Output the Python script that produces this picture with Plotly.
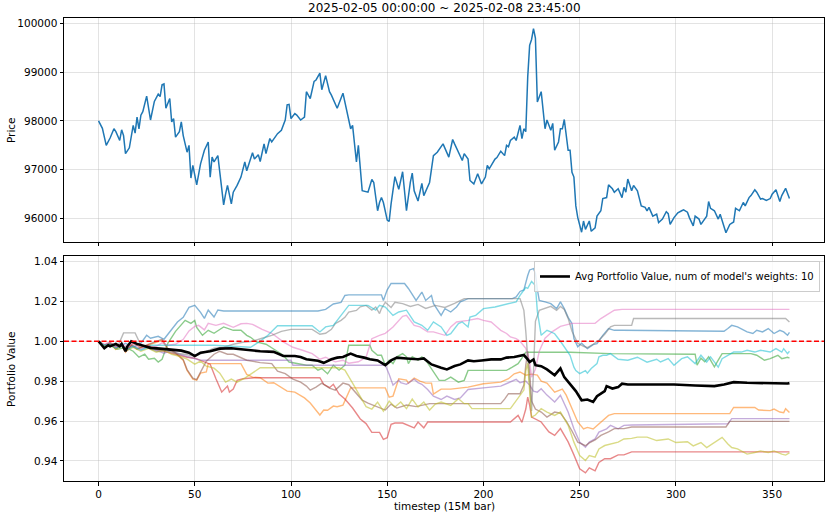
import plotly.graph_objects as go

TITLE = "2025-02-05 00:00:00 ~ 2025-02-08 23:45:00"
X_LABEL = "timestep (15M bar)"
PRICE_LABEL = "Price"
PV_LABEL = "Portfolio Value"
LEGEND_LABEL = "Avg Portfolio Value, num of model's weights: 10"
BASELINE = 1.0
X_TICKS = [0, 50, 100, 150, 200, 250, 300, 350]
PRICE_TICKS = [96000, 97000, 98000, 99000, 100000]
PV_TICKS = [0.94, 0.96, 0.98, 1.00, 1.02, 1.04]

# (timestep, price)
price = [(0,98000),(2,97850),(4,97500),(6,97650),(8,97840),(9,97780),(11,97600),(12,97820),(13,97700),(14,97330),
 (16,97450),(18,97910),(19,97750),(20,98080),(21,97840),(22,98120),(23,98190),(25,98510),(27,98020),(29,98400),
 (31,98550),(32,98500),(33,98740),(34,98760),(35,98260),(37,98460),(38,97980),(39,98050),(40,97670),(42,97780),
 (43,97980),(44,97700),(46,97360),(47,97500),(48,96830),(49,97090),(51,96690),(53,97120),(55,97400),(57,97570),
 (58,96850),(59,97260),(60,97160),(62,97290),(63,96950),(65,96280),(66,96500),(67,96680),(69,96300),(70,96540),
 (72,96680),(74,96850),(76,97160),(77,96980),(80,97350),(81,97220),(83,97310),(84,97170),(86,97530),(87,97330),
 (89,97640),(90,97570),(93,97740),(95,97810),(97,98020),(98,98330),(99,98340),(100,98050),(102,98150),(103,98120),
 (105,98020),(107,98080),(108,98600),(110,98460),(112,98810),(113,98840),(115,98980),(116,98640),(118,98930),(120,98600),
 (121,98530),(124,98260),(127,98570),(129,98220),(131,97840),(132,97910),(134,97160),(135,97500),(137,96570),(140,96540),
 (142,96800),(143,96740),(145,96160),(146,96330),(147,96430),(148,96330),(150,95970),(151,95940),(152,96300),(154,96860),
 (156,96600),(158,96960),(160,96160),(162,96740),(163,96930),(164,96570),(166,96360),(168,96720),(169,96470),(172,96740),
 (174,97290),(176,97360),(179,97530),(182,97260),(184,97620),(185,97530),(189,97190),(190,97330),(192,97220),(193,96780),
 (195,96710),(197,96920),(199,96710),(201,96850),(202,97090),(203,97020),(206,97220),(207,97250),(209,97380),(211,97290),
 (212,97500),(213,97470),(214,97600),(216,97670),(217,97600),(219,97910),(220,97640),(221,97840),(222,97780),(223,98900),
 (224,99550),(225,99670),(226,99890),(227,99700),(228,98390),(230,98600),(232,97840),(233,98020),(235,97810),(236,97950),
 (237,97400),(239,97570),(240,97840),(241,97840),(242,98030),(244,97400),(245,97400),(246,96950),(247,96850),(248,96260),
 (249,96020),(251,95720),(252,95950),(253,95780),(255,95950),(256,95740),(258,95810),(259,96050),(261,96160),(262,96410),
 (264,96430),(265,96690),(267,96610),(268,96540),(270,96610),(272,96430),(273,96640),(274,96540),(275,96810),(277,96570),
 (278,96680),(280,96570),(282,96260),(284,96230),(285,96160),(286,96230),(288,96050),(290,96090),(291,95920),(293,95990),
 (295,96140),(296,96100),(297,95880),(299,96020),(301,96120),(303,96160),(304,96180),(306,96130),(307,96020),(309,95850),
 (310,96050),(312,95990),(313,95880),(316,96050),(317,96350),(318,96210),(320,96160),(322,95990),(323,96090),(326,95710),
 (328,95880),(330,95930),(331,96210),(333,96160),(335,96330),(336,96260),(338,96430),(339,96470),(341,96590),(342,96540),
 (344,96400),(345,96410),(347,96370),(349,96410),(350,96500),(352,96590),(354,96350),(355,96470),(357,96620),(359,96410)]

# (timestep, portfolio value) for each model's weights
model_0 = [(0,1.0),(3,0.998),(6,0.999),(10,0.997),(14,0.999),(18,0.997),(22,0.999),(25,1.003),(27,1.0015),(31,1.0025),
 (34,1.001),(37,1.005),(41,1.0097),(44,1.012),(47,1.017),(50,1.018),(53,1.0145),(55,1.0115),(57,1.0157),(60,1.0122),
 (62,1.0157),(65,1.0152),(114,1.0152),(118,1.016),(122,1.0187),(126,1.0195),(128,1.023),(130,1.0233),(147,1.0233),(148,1.0205),
 (150,1.0258),(152,1.029),(159,1.029),(161,1.0265),(163,1.0238),(165,1.0205),(168,1.0247),(170,1.0205),(173,1.023),(174,1.019),
 (178,1.013),(180,1.0164),(183,1.0147),(186,1.0172),(188,1.0198),(192,1.0214),(215,1.0214),(217,1.0223),(219,1.025),(221,1.0258),
 (223,1.033),(224,1.0358),(226,1.0365),(227,1.034),(228,1.026),(229,1.0205),(232,1.0198),(235,1.0189),(238,1.0164),(240,1.0198),
 (242,1.0164),(244,1.012),(246,1.0089),(247,1.0014),(249,0.9972),(251,0.999),(254,0.9963),(257,0.9983),(259,0.9988),(262,1.003),
 (265,1.0064),(268,1.0055),(272,1.0055),(325,1.005),(327,1.0064),(329,1.008),(332,1.0072),(335,1.0055),(337,1.0047),(340,1.0039),
 (342,1.0055),(345,1.0047),(348,1.0064),(351,1.0039),(354,1.0055),(356,1.0047),(358,1.003),(359,1.0045)]
model_1 = [(0,1.0),(3,0.997),(6,0.999),(9,0.996),(12,0.998),(14,0.9945),(17,0.998),(20,0.996),(24,0.9975),(28,0.999),
 (31,1.0),(33,1.0005),(36,0.996),(40,0.994),(44,0.9905),(46,0.9854),(49,0.981),(51,0.9805),(53,0.984),(56,0.9846),
 (57,0.9888),(74,0.9888),(77,0.9834),(80,0.982),(84,0.9817),(88,0.979),(91,0.9792),(95,0.977),(98,0.975),(102,0.9745),
 (107,0.9716),(110,0.969),(112,0.9666),(115,0.963),(117,0.9655),(119,0.9654),(122,0.9675),(124,0.9672),(127,0.968),(131,0.9766),
 (149,0.9766),(151,0.972),(153,0.9725),(156,0.9812),(160,0.9805),(161,0.979),(164,0.9815),(167,0.98),(170,0.979),(173,0.979),
 (174,0.9735),(178,0.976),(183,0.976),(192,0.977),(200,0.9787),(209,0.9795),(213,0.9812),(216,0.9837),(219,0.9846),(222,0.983),
 (225,0.9835),(228,0.983),(230,0.98),(233,0.979),(237,0.9745),(241,0.976),(243,0.973),(246,0.966),(249,0.9595),(252,0.956),
 (254,0.9568),(257,0.956),(260,0.9585),(262,0.9602),(265,0.9628),(268,0.9637),(328,0.9637),(330,0.9668),(341,0.9668),(343,0.9655),
 (349,0.9652),(351,0.966),(354,0.9645),(356,0.9642),(357,0.9662),(359,0.9643)]
model_2 = [(0,1.0),(3,0.997),(6,0.998),(10,0.996),(14,0.997),(18,0.995),(21,0.992),(24,0.9935),(26,0.991),(29,0.9915),
 (31,0.9896),(33,0.991),(36,0.999),(40,1.005),(45,1.0105),(48,1.009),(50,1.0105),(51,1.007),(54,1.003),(57,1.0055),
 (60,1.004),(65,1.0072),(70,1.0055),(74,1.0055),(77,1.003),(79,1.002),(82,0.9997),(87,0.9985),(92,0.9955),(96,0.993),
 (99,0.9896),(104,0.9888),(108,0.988),(111,0.988),(114,0.9855),(116,0.9863),(119,0.9837),(122,0.988),(125,0.9855),(128,0.988),
 (130,0.998),(141,0.998),(142,0.9955),(145,0.993),(147,0.993),(149,0.988),(151,0.9905),(153,0.9888),(155,0.9922),(158,0.9938),
 (160,0.9922),(161,0.9888),(163,0.9922),(166,0.9905),(168,0.9922),(170,0.9905),(174,0.9846),(177,0.9804),(180,0.9804),(183,0.982),
 (187,0.9795),(190,0.9804),(192,0.9854),(212,0.9854),(215,0.987),(218,0.9888),(220,0.9915),(222,0.9945),(245,0.9945),(266,0.9938),
 (310,0.9935),(311,0.988),(313,0.9915),(315,0.9897),(317,0.9922),(320,0.9872),(322,0.9905),(324,0.9938),(339,0.9938),(342,0.993),
 (346,0.9905),(349,0.9913),(353,0.993),(355,0.9913),(358,0.992),(359,0.9915)]
model_3 = [(0,1.0),(3,0.998),(6,0.9995),(9,0.997),(12,0.998),(15,0.996),(18,0.999),(22,0.997),(26,0.998),(30,0.996),
 (34,0.995),(38,0.994),(42,0.993),(46,0.992),(50,0.9915),(54,0.99),(58,0.9885),(61,0.9812),(64,0.9745),(67,0.9775),
 (68,0.9745),(70,0.976),(72,0.9804),(75,0.9812),(81,0.9817),(115,0.9817),(117,0.9784),(120,0.9767),(122,0.9784),(125,0.9735),
 (128,0.971),(132,0.9665),(134,0.9634),(136,0.961),(139,0.9587),(142,0.9543),(146,0.9543),(148,0.9508),(150,0.9516),(152,0.9583),
 (154,0.959),(158,0.959),(164,0.9566),(166,0.9595),(169,0.9566),(171,0.9595),(214,0.9595),(216,0.961),(218,0.9628),(220,0.9593),
 (222,0.966),(223,0.972),(224,0.968),(225,0.962),(227,0.961),(230,0.9595),(234,0.9545),(237,0.9528),(240,0.9562),(244,0.9495),
 (247,0.943),(250,0.936),(253,0.934),(255,0.9365),(258,0.935),(260,0.9392),(263,0.9411),(266,0.9411),(270,0.943),(273,0.943),
 (277,0.9445),(359,0.9445)]
model_4 = [(0,1.0),(3,0.9975),(6,0.999),(9,0.9965),(12,0.9985),(15,0.9955),(18,0.998),(22,0.996),(26,0.9975),(30,0.9955),
 (34,0.994),(38,0.9955),(42,0.9935),(46,0.9925),(50,0.9915),(53,0.9905),(100,0.9905),(101,0.988),(149,0.988),(151,0.9835),
 (153,0.978),(156,0.9805),(157,0.9792),(160,0.9784),(164,0.981),(166,0.9792),(168,0.9784),(171,0.9758),(174,0.9725),(178,0.9708),
 (181,0.9725),(185,0.9708),(188,0.9716),(192,0.9758),(200,0.9766),(209,0.9775),(213,0.9792),(217,0.9809),(219,0.9792),(222,0.98),
 (224,0.978),(226,0.975),(228,0.9745),(230,0.9762),(233,0.973),(237,0.9695),(240,0.9729),(244,0.9645),(247,0.9561),(250,0.9494),
 (253,0.9469),(255,0.9494),(258,0.951),(260,0.9544),(264,0.9561),(266,0.9578),(270,0.9561),(273,0.9578),(277,0.958),(327,0.9586),
 (329,0.9612),(359,0.9612)]
model_5 = [(0,1.0),(3,0.997),(6,0.999),(9,0.9962),(12,0.9982),(14,0.9948),(17,0.9982),(20,0.9962),(24,0.9978),(28,0.9992),
 (31,1.0005),(33,1.001),(36,0.9965),(40,0.9942),(44,0.9908),(46,0.9858),(49,0.9815),(51,0.9808),(53,0.9845),(56,0.99),
 (60,0.9935),(63,0.995),(67,0.9935),(70,0.9935),(77,0.9905),(84,0.9893),(90,0.9888),(93,0.985),(97,0.9838),(101,0.981),
 (105,0.9795),(108,0.9775),(110,0.9755),(113,0.977),(116,0.979),(120,0.9765),(123,0.9755),(127,0.979),(130,0.9782),(133,0.975),
 (137,0.9705),(140,0.969),(145,0.967),(149,0.9655),(152,0.9685),(155,0.9665),(160,0.968),(165,0.9672),(172,0.9687),(209,0.9687),
 (211,0.971),(213,0.9737),(219,0.9737),(221,0.978),(222,0.988),(223,0.995),(224,0.985),(225,0.97),(227,0.966),(230,0.9645),
 (233,0.962),(237,0.9645),(240,0.964),(243,0.96),(246,0.955),(249,0.9494),(253,0.9476),(255,0.949),(258,0.9505),(261,0.9528),
 (265,0.9545),(268,0.9562),(273,0.9562),(277,0.957),(326,0.957),(328,0.9598),(359,0.9598)]
model_6 = [(0,1.0),(3,0.9985),(6,0.9995),(9,0.997),(12,0.999),(15,0.997),(18,0.9995),(22,0.998),(26,0.9965),(30,0.9975),
 (33,0.9992),(36,0.998),(40,0.9985),(44,1.001),(47,1.0052),(50,1.0075),(52,1.008),(55,1.0057),(57,1.009),(61,1.008),
 (65,1.009),(70,1.007),(74,1.0088),(77,1.009),(80,1.0085),(85,1.006),(90,1.004),(96,0.9997),(101,0.997),(106,0.9955),
 (111,0.9938),(115,0.991),(118,0.992),(123,0.9897),(127,0.9905),(130,0.989),(135,0.9897),(139,0.992),(142,1.0013),(146,1.003),
 (149,1.004),(153,1.0072),(156,1.0105),(158,1.0125),(160,1.013),(164,1.008),(167,1.0072),(171,1.0047),(174,1.0047),(180,1.003),
 (183,1.0072),(186,1.0097),(192,1.0105),(197,1.0114),(200,1.0105),(204,1.0097),(207,1.0072),(209,1.0055),(212,1.0039),(214,1.0022),
 (217,1.0013),(219,1.0),(222,0.9965),(224,0.99),(225,0.982),(227,0.986),(229,0.995),(232,1.0015),(236,1.005),(240,1.0075),
 (246,1.009),(258,1.009),(261,1.0114),(265,1.0139),(268,1.0156),(272,1.016),(359,1.016)]
model_7 = [(0,1.0),(3,0.998),(6,0.999),(10,0.9975),(13,1.0042),(19,1.0042),(22,0.998),(26,0.9965),(30,0.995),(35,0.9955),
 (40,0.994),(45,0.9935),(50,0.9925),(55,0.9945),(60,0.9965),(65,0.997),(70,0.9985),(75,0.9995),(80,1.0),(85,1.0015),
 (90,1.003),(95,1.005),(100,1.006),(111,1.006),(115,1.0035),(118,1.004),(121,1.006),(123,1.0089),(126,1.0105),(128,1.012),
 (130,1.0146),(134,1.0155),(136,1.0173),(139,1.018),(142,1.0156),(144,1.0172),(146,1.0139),(147,1.0164),(149,1.0196),(152,1.017),
 (154,1.0196),(158,1.0189),(162,1.0175),(166,1.0185),(170,1.0165),(175,1.018),(180,1.017),(185,1.019),(190,1.0214),(219,1.0214),
 (221,1.0155),(222,1.005),(224,0.98),(225,0.965),(226,0.985),(227,1.01),(229,1.0155),(232,1.0165),(235,1.0175),(238,1.0155),
 (240,1.0175),(242,1.016),(244,1.0115),(246,1.005),(249,0.999),(252,0.9975),(254,0.9968),(257,0.9985),(260,1.0005),(263,1.0035),
 (266,1.0072),(268,1.008),(277,1.008),(278,1.0114),(357,1.0114),(359,1.0097)]
model_8 = [(0,1.0),(3,0.9975),(6,0.9985),(9,0.996),(12,0.998),(15,0.9955),(18,0.997),(22,0.995),(26,0.9965),(30,0.9945),
 (34,0.9955),(38,0.9935),(42,0.9925),(46,0.991),(50,0.9885),(53,0.99),(56,0.9875),(60,0.9865),(63,0.984),(66,0.9795),
 (69,0.981),(72,0.9795),(76,0.9815),(80,0.984),(84,0.9867),(125,0.9867),(128,0.9855),(132,0.979),(136,0.972),(139,0.9672),
 (142,0.966),(145,0.9695),(148,0.965),(151,0.97),(154,0.967),(157,0.9695),(160,0.9662),(163,0.971),(166,0.967),(169,0.9695),
 (172,0.9655),(175,0.9685),(178,0.9695),(183,0.9678),(187,0.9712),(190,0.9687),(192,0.9687),(194,0.9662),(214,0.9662),(216,0.9687),
 (218,0.9712),(221,0.9755),(222,0.985),(223,0.989),(224,0.975),(225,0.962),(227,0.963),(230,0.9662),(233,0.9645),(237,0.9628),
 (240,0.9645),(244,0.9578),(247,0.9494),(250,0.9427),(253,0.9402),(255,0.9427),(258,0.9419),(260,0.946),(263,0.9477),(266,0.9485),
 (270,0.9494),(273,0.951),(277,0.9513),(280,0.9519),(285,0.9519),(290,0.9502),(296,0.951),(300,0.9492),(306,0.9496),(309,0.9475),
 (313,0.9492),(316,0.9467),(320,0.9492),(324,0.9518),(327,0.9485),(329,0.9467),(332,0.946),(335,0.9442),(337,0.9434),(341,0.9442),
 (344,0.945),(348,0.9442),(351,0.945),(355,0.9434),(357,0.9429),(359,0.944)]
model_9 = [(0,1.0),(3,0.998),(6,0.9985),(9,0.9965),(12,0.998),(15,0.996),(18,0.9975),(22,0.9955),(26,0.997),(27,0.998),
 (60,0.998),(79,0.997),(84,1.0),(88,1.003),(93,1.0078),(111,1.0078),(115,1.0047),(118,1.0072),(122,1.008),(127,1.0139),
 (130,1.018),(140,1.018),(144,1.0156),(146,1.018),(149,1.0172),(153,1.013),(156,1.0147),(160,1.0156),(161,1.014),(164,1.0097),
 (168,1.008),(171,1.0055),(174,1.0097),(178,1.0072),(181,1.003),(183,1.0038),(187,1.0089),(189,1.0097),(192,1.0072),(193,1.0122),
 (196,1.013),(198,1.0147),(200,1.0164),(206,1.0172),(209,1.018),(213,1.0189),(217,1.0198),(219,1.023),(222,1.027),(223,1.0266),
 (225,1.03),(227,1.028),(228,1.015),(230,1.003),(233,1.0055),(235,1.0047),(237,1.0038),(240,1.0),(242,0.9972),(245,0.993),
 (247,0.987),(248,0.9853),(250,0.9838),(253,0.9853),(254,0.984),(256,0.9863),(259,0.9888),(260,0.9922),(262,0.993),(264,0.993),
 (266,0.9938),(270,0.991),(275,0.9905),(280,0.992),(285,0.9895),(290,0.991),(292,0.9896),(296,0.9913),(299,0.988),(303,0.9913),
 (306,0.9922),(310,0.9888),(313,0.993),(316,0.9896),(318,0.9922),(322,0.987),(324,0.9913),(327,0.993),(330,0.9946),(334,0.9946),
 (337,0.9955),(341,0.9946),(344,0.9955),(349,0.9946),(352,0.9963),(355,0.9946),(356,0.9963),(358,0.9938),(359,0.995)]
models = [model_0, model_1, model_2, model_3, model_4, model_5, model_6, model_7, model_8, model_9]

avg_value = [(0,1.0),(3,0.9965),(5,0.998),(6,0.9975),(9,0.9987),(11,0.9975),(12,0.9987),(14,0.995),(15,0.9975),(17,1.0),
 (20,0.9987),(24,0.9975),(27,0.9967),(32,0.9963),(37,0.9958),(43,0.9953),(47,0.9943),(50,0.9926),(53,0.9943),(58,0.995),
 (63,0.9963),(69,0.9965),(74,0.996),(79,0.9955),(84,0.995),(91,0.9947),(96,0.9926),(102,0.9926),(105,0.9921),(108,0.991),
 (114,0.9902),(117,0.9892),(121,0.991),(124,0.9918),(127,0.9921),(131,0.9938),(134,0.9926),(138,0.9918),(141,0.991),(145,0.9904),
 (149,0.988),(152,0.9904),(155,0.9918),(160,0.9914),(166,0.991),(169,0.9914),(173,0.9884),(178,0.9867),(181,0.9859),(185,0.9876),
 (188,0.9884),(192,0.9904),(195,0.99),(199,0.9904),(204,0.9909),(209,0.9909),(212,0.9918),(216,0.9921),(219,0.9926),(221,0.9931),
 (223,0.9909),(224,0.9896),(226,0.9909),(227,0.988),(230,0.9875),(233,0.9859),(237,0.983),(239,0.985),(240,0.9864),(242,0.982),
 (245,0.9783),(248,0.975),(251,0.9704),(254,0.9708),(257,0.9696),(259,0.9724),(263,0.975),(264,0.9775),(267,0.9763),(270,0.977),
 (272,0.9787),(275,0.9783),(282,0.9783),(299,0.9783),(310,0.9778),(320,0.9775),(325,0.9783),(330,0.9795),(337,0.9792),(344,0.979),
 (351,0.979),(358,0.9788),(359,0.979)]

COLORS = ["#1f77b4", "#ff7f0e", "#2ca02c", "#d62728", "#9467bd",
          "#8c564b", "#e377c2", "#7f7f7f", "#bcbd22", "#17becf"]


def rgba(hex_color, a):
    h = hex_color.lstrip("#")
    r, g, b = int(h[0:2], 16), int(h[2:4], 16), int(h[4:6], 16)
    return f"rgba({r},{g},{b},{a})"


def unzip(pairs):
    return [p[0] for p in pairs], [p[1] for p in pairs]


fig = go.Figure()

px_, py_ = unzip(price)
fig.add_trace(go.Scatter(x=px_, y=py_, mode="lines", line=dict(color="#1f77b4", width=1.5),
                         xaxis="x", yaxis="y", showlegend=False, hoverinfo="skip"))

for i, m in enumerate(models):
    mx, my = unzip(m)
    fig.add_trace(go.Scatter(x=mx, y=my, mode="lines",
                             line=dict(color=rgba(COLORS[i], 0.55), width=1.4),
                             xaxis="x2", yaxis="y2", showlegend=False, hoverinfo="skip"))

ax, ay = unzip(avg_value)
fig.add_trace(go.Scatter(x=ax, y=ay, mode="lines", name=LEGEND_LABEL,
                         line=dict(color="black", width=2.6),
                         xaxis="x2", yaxis="y2", showlegend=True))

grid = "rgba(176,176,176,0.35)"
common_x = dict(range=[-17.95, 376.95], tickvals=X_TICKS, showgrid=True, gridcolor=grid,
                zeroline=False, showline=True, linecolor="black", linewidth=1, mirror=True,
                ticks="outside", ticklen=3.5, tickcolor="black")
common_y = dict(showgrid=True, gridcolor=grid, zeroline=False, showline=True, linecolor="black",
                linewidth=1, mirror=True, ticks="outside", ticklen=3.5, tickcolor="black")

fig.update_layout(
    width=828, height=516,
    margin=dict(l=64, r=4, t=18, b=35),
    paper_bgcolor="white", plot_bgcolor="white",
    font=dict(family="DejaVu Sans", size=10.5, color="black"),
    xaxis=dict(domain=[0, 1], anchor="y", showticklabels=False, matches="x2", **common_x),
    yaxis=dict(domain=[0.5162, 1], anchor="x", range=[95520, 100110], tickvals=PRICE_TICKS,
               tickformat="d", **common_y),
    xaxis2=dict(domain=[0, 1], anchor="y2", **common_x),
    yaxis2=dict(domain=[0, 0.486], anchor="x2", range=[0.9299, 1.0428], tickvals=PV_TICKS,
                tickformat=".2f", **common_y),
    legend=dict(x=0.9947, xanchor="right", y=0.4752, yanchor="top", itemwidth=30,
                bgcolor="rgba(255,255,255,0.8)", bordercolor="#cccccc", borderwidth=1,
                font=dict(size=10), tracegroupgap=0),
    shapes=[dict(type="line", xref="x2 domain", x0=0, x1=1, yref="y2", y0=BASELINE, y1=BASELINE,
                 line=dict(color="red", width=1.5, dash="5px,2.5px"), layer="above")],
    annotations=[
        dict(text=TITLE, xref="paper", yref="paper", x=0.5, y=1.0, yshift=10, xanchor="center",
             yanchor="middle", showarrow=False, font=dict(size=12)),
        dict(text=PRICE_LABEL, xref="paper", yref="paper", x=-0.0697, y=0.758, textangle=-90,
             xanchor="center", yanchor="middle", showarrow=False),
        dict(text=PV_LABEL, xref="paper", yref="paper", x=-0.0697, y=0.24, textangle=-90,
             xanchor="center", yanchor="middle", showarrow=False),
        dict(text=X_LABEL, xref="paper", yref="paper", x=0.5, y=-0.054, xanchor="center",
             yanchor="middle", showarrow=False),
    ],
)

fig.write_html("out.html")
